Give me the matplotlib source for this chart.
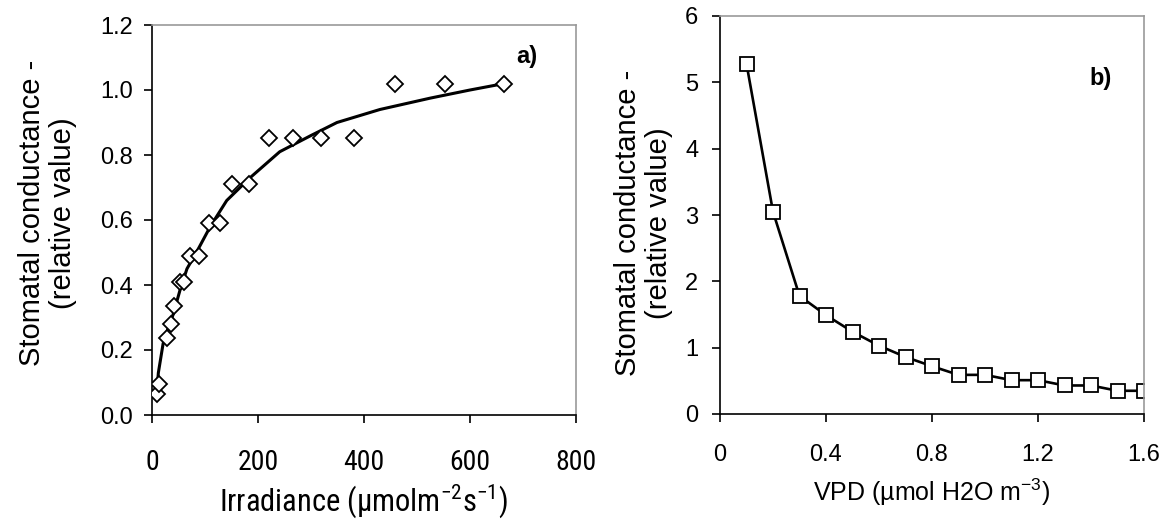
import matplotlib
matplotlib.use("Agg")
import matplotlib.pyplot as plt
from matplotlib import font_manager
from matplotlib.font_manager import FontProperties

# ---- data: panel a) ----
irr_x = [10, 13, 28, 36, 41, 53, 60, 72, 89, 108, 128, 151, 183, 221, 266, 319, 381, 459, 553, 665]
irr_y = [0.065, 0.095, 0.236, 0.28, 0.336, 0.41, 0.41, 0.49, 0.49, 0.59, 0.59, 0.71, 0.71, 0.852, 0.852, 0.852, 0.852, 1.02, 1.02, 1.02]
fit_x = [10, 12, 21, 30, 40, 53, 66, 87, 110, 141, 185, 241, 300, 349, 430, 525, 600, 665]
fit_y = [0.09, 0.13, 0.22, 0.265, 0.31, 0.385, 0.45, 0.51, 0.58, 0.66, 0.73, 0.81, 0.86, 0.90, 0.94, 0.975, 1.0, 1.02]

# ---- data: panel b) ----
vpd_x = [0.1, 0.2, 0.3, 0.4, 0.5, 0.6, 0.7, 0.8, 0.9, 1.0, 1.1, 1.2, 1.3, 1.4, 1.5, 1.6]
vpd_y = [5.28, 3.05, 1.78, 1.49, 1.24, 1.03, 0.86, 0.72, 0.59, 0.59, 0.51, 0.51, 0.43, 0.43, 0.35, 0.35]

a_xticks = [0, 200, 400, 600, 800]
a_yticks = [0.0, 0.2, 0.4, 0.6, 0.8, 1.0, 1.2]
b_xticks = [0, 0.4, 0.8, 1.2, 1.6]
b_xticklabels = ["0", "0.4", "0.8", "1.2", "1.6"]
b_yticks = [0, 1, 2, 3, 4, 5, 6]

names = {f.name for f in font_manager.fontManager.ttflist}
narrow = "Roboto Condensed" if "Roboto Condensed" in names else "Liberation Sans"
REG = ['Liberation Sans', 'DejaVu Sans']
plt.rcParams['font.family'] = REG
plt.rcParams['mathtext.fontset'] = 'custom'
plt.rcParams['mathtext.rm'] = 'Liberation Sans'

def fp(size, family=None, weight='normal'):
    return FontProperties(family=family or REG, size=size, weight=weight)

fig = plt.figure(figsize=(11.67, 5.24), dpi=100)

def style(ax):
    for s in ['left', 'bottom']:
        ax.spines[s].set_color('black')
        ax.spines[s].set_linewidth(1.2)
    for s in ['top', 'right']:
        ax.spines[s].set_color('#999999')
        ax.spines[s].set_linewidth(1.2)
    ax.tick_params(direction='out', length=5.5, width=1.2, top=False, right=False)

ylab = "Stomatal conductance -\n(relative value)"

# panel a
ax1 = fig.add_axes([152/1167, 1-415/524, 424/1167, 390/524])
style(ax1)
ax1.plot(fit_x, fit_y, color='black', lw=2.2, zorder=2)
ax1.plot(irr_x, irr_y, linestyle='none', marker='D', ms=8.5, mfc='white', mec='black', mew=1.3, zorder=3)
ax1.set_xlim(0, 800)
ax1.set_ylim(0, 1.2)
ax1.set_xticks(a_xticks)
ax1.set_xticklabels([str(v) for v in a_xticks])
for t in ax1.get_xticklabels():
    t.set_fontproperties(fp(20, [narrow]))
ax1.set_yticks(a_yticks)
ax1.set_yticklabels([f"{v:.1f}" for v in a_yticks])
for t in ax1.get_yticklabels():
    t.set_fontproperties(fp(17))
ax1.tick_params(axis='x', pad=19)
ax1.tick_params(axis='y', pad=8)
ax1.set_xlabel(r"Irradiance (µmolm$^{\mathregular{-2}}$s$^{\mathregular{-1}}$)", fontproperties=fp(22, [narrow]))
ax1.xaxis.set_label_coords(0.5, -0.22)
ax1.xaxis.label.set_va('center')
ax1.set_ylabel(ylab, fontproperties=fp(21), linespacing=1.15)
ax1.yaxis.set_label_coords(-0.177, 0.518)
ax1.text(0.884, 0.918, "a)", transform=ax1.transAxes, fontproperties=fp(17, weight='bold'), ha='center', va='center')

# panel b
ax2 = fig.add_axes([720/1167, 1-414/524, 424/1167, 398/524])
style(ax2)
ax2.plot(vpd_x, vpd_y, color='black', lw=1.9, marker='s', ms=10, mfc='white', mec='black', mew=1.3)
ax2.set_xlim(0, 1.6)
ax2.set_ylim(0, 6)
ax2.set_xticks(b_xticks)
ax2.set_xticklabels(b_xticklabels)
for t in ax2.get_xticklabels():
    t.set_fontproperties(fp(17))
ax2.set_yticks(b_yticks)
ax2.set_yticklabels([str(v) for v in b_yticks])
for t in ax2.get_yticklabels():
    t.set_fontproperties(fp(17))
ax2.tick_params(axis='x', pad=16)
ax2.tick_params(axis='y', pad=10)
ax2.set_xlabel(r"VPD (µmol H2O m$^{\mathregular{-3}}$)", fontproperties=fp(18))
ax2.xaxis.set_label_coords(0.5, -0.197)
ax2.xaxis.label.set_va('center')
ax2.set_ylabel(ylab, fontproperties=fp(21), linespacing=1.15)
ax2.yaxis.set_label_coords(-0.111, 0.48)
ax2.text(0.898, 0.842, "b)", transform=ax2.transAxes, fontproperties=fp(17, weight='bold'), ha='center', va='center')

fig.savefig("out.png", dpi=100)
